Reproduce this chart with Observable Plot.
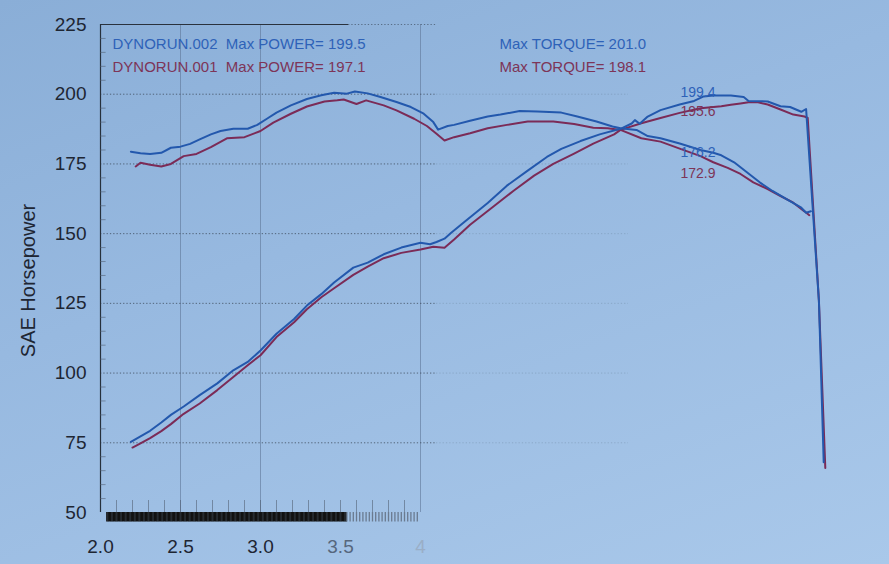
<!DOCTYPE html>
<html><head><meta charset="utf-8">
<script src="https://cdn.jsdelivr.net/npm/d3@7"></script>
<script src="https://cdn.jsdelivr.net/npm/@observablehq/plot@0.6"></script>
<style>
html,body{margin:0;padding:0;}
body{width:889px;height:564px;overflow:hidden;background:linear-gradient(160deg,#8aaed7 0%,#97b9e0 40%,#a9c8ea 100%);font-family:"Liberation Sans",Arial,sans-serif;}
#chart svg{display:block;background:transparent;}
</style></head><body><div id="chart"></div>
<script>
// ---- data ----
const runs = ["DYNORUN.002", "DYNORUN.001"];
const maxPower = [199.5, 197.1];
const maxTorque = [201.0, 198.1];
const cursorPower = [199.4, 195.6];
const cursorTorque = [176.2, 172.9];

const rpmTorque002 = [2.19,2.25,2.31,2.38,2.44,2.5,2.56,2.62,2.69,2.75,2.83,2.92,2.98,3.04,3.1,3.19,3.29,3.38,3.46,3.54,3.59,3.67,3.75,3.85,3.94,4.02,4.08,4.11,4.17,4.21,4.31,4.42,4.5,4.62,4.73,4.88,4.98,5.1,5.2,5.25,5.35,5.42,5.5,5.62,5.75,5.83,5.88,5.96,6.04,6.12,6.2,6.29,6.38,6.41,6.44];
const torque002 =    [179.4,178.8,178.6,179.0,180.8,181.2,182.2,183.8,185.6,186.8,187.6,187.6,189.0,191.2,193.4,196.0,198.3,199.6,200.5,200.2,201.0,200.3,199.0,197.2,195.4,193.0,190.0,187.3,188.6,189.0,190.5,192.0,192.7,194.0,193.8,193.4,192.0,190.2,188.4,187.8,187.2,185.0,184.2,182.3,180.0,179.0,178.1,175.6,172.0,168.4,165.3,162.3,159.3,157.5,158.0];

const rpmTorque001 = [2.22,2.25,2.31,2.38,2.44,2.52,2.6,2.69,2.79,2.9,3.0,3.08,3.19,3.29,3.4,3.48,3.52,3.6,3.66,3.77,3.85,3.96,4.04,4.1,4.15,4.21,4.31,4.42,4.54,4.67,4.83,4.96,5.08,5.17,5.25,5.38,5.5,5.62,5.75,5.83,5.92,6.0,6.08,6.17,6.25,6.33,6.4,6.43];
const torque001 =    [174.1,175.4,174.7,174.1,175.0,177.8,178.6,181.0,184.2,184.6,186.8,189.8,193.0,195.6,197.4,197.8,198.1,196.5,197.8,196.0,194.2,191.2,188.6,185.8,183.4,184.6,186.0,187.8,189.0,190.2,190.2,189.3,188.0,187.8,187.2,184.2,183.0,180.5,177.8,175.6,173.6,171.4,168.4,166.0,163.5,161.1,158.0,156.6];

const rpmPower002 = [2.19,2.25,2.31,2.38,2.44,2.52,2.62,2.73,2.83,2.92,3.0,3.1,3.21,3.29,3.38,3.46,3.58,3.67,3.77,3.88,4.0,4.06,4.1,4.15,4.19,4.27,4.42,4.54,4.67,4.79,4.88,5.0,5.12,5.25,5.32,5.34,5.37,5.42,5.5,5.62,5.71,5.77,5.83,5.94,6.02,6.05,6.17,6.25,6.31,6.38,6.41,6.49,6.52];
const power002 =    [75.3,77.3,79.3,82.3,85.0,88.0,92.1,96.3,101.0,104.0,108.1,114.1,119.4,124.2,128.3,132.5,137.8,139.6,142.6,145.0,146.7,146.2,147.0,148.2,150.2,154.0,161.0,167.2,172.6,177.5,180.4,183.2,185.6,187.6,189.5,190.7,189.4,192.0,194.3,196.3,197.6,199.2,199.5,199.5,199.0,197.6,197.4,195.7,195.4,193.7,194.7,126.0,68.0];

const rpmPower001 = [2.2,2.25,2.31,2.38,2.44,2.52,2.62,2.73,2.83,2.92,3.0,3.1,3.21,3.29,3.38,3.46,3.58,3.67,3.77,3.88,4.0,4.08,4.15,4.21,4.31,4.46,4.58,4.71,4.83,4.96,5.08,5.21,5.25,5.38,5.5,5.62,5.75,5.88,5.94,6.0,6.05,6.11,6.17,6.25,6.33,6.4,6.42,6.49,6.53];
const power001 =    [73.3,74.8,76.7,79.2,81.7,85.4,89.1,93.9,98.6,102.8,106.4,112.9,118.2,122.9,127.2,130.4,135.2,138.2,141.2,143.1,144.3,145.3,144.9,147.9,153.2,159.9,165.3,170.8,175.0,178.7,182.3,185.6,187.2,189.6,191.5,193.3,195.0,195.7,196.2,196.7,197.1,197.1,196.3,194.5,192.7,192.0,191.5,126.0,66.0];

const yTicks = [50, 75, 100, 125, 150, 175, 200, 225];
const yGrid = [75, 100, 125, 150, 175, 200];
const xTickValues = [2.0, 2.5, 3.0, 3.5, 4.0];
const xTickLabels = ["2.0", "2.5", "3.0", "3.5", "4"];
const xTickShade = ["#1e2633", "#1e2633", "#1e2633", "#56677d", "#9aaec6"];
const xGrid = [2.5, 3.0, 4.0];
const cursorRpm = 5.625;

// ---- styling ----
const blue = "#2358ad", red = "#7b2b57";
const blueText = "#2e62b8", redText = "#7d3558";

const zip = (xs, ys) => xs.map((x, i) => ({rpm: x, v: ys[i]}));
const minorY = d3.range(55, 225, 5).filter(v => v % 25 !== 0);
const minorX = d3.range(2.1, 3.95, 0.1);
const rugDark = d3.range(2.04, 3.54, 0.008);
const rugLight = d3.range(3.54, 3.99, 0.02);

const headerOpts = {frameAnchor: "top-left", textAnchor: "start", lineAnchor: "middle", fontSize: 15};
const cursorOpts = {x: cursorRpm, textAnchor: "start", lineAnchor: "middle", fontSize: 14, text: d => d.toFixed(1)};

const chart = Plot.plot({
  width: 889,
  height: 564,
  marginLeft: 100,
  marginRight: 29,
  marginTop: 24,
  marginBottom: 52,
  x: {domain: [2, 6.75], axis: null},
  y: {domain: [50, 225], axis: null},
  style: {background: "transparent", fontFamily: "'Liberation Sans', Arial, sans-serif"},
  marks: [
    Plot.ruleX(xGrid, {y1: 50, y2: 225, stroke: "#62799a", strokeWidth: 0.9, strokeOpacity: 0.7}),
    Plot.ruleY(yGrid, {x1: 2, x2: 4.1, stroke: "#34404f", strokeDasharray: "1.3,2", strokeOpacity: 0.7}),
    Plot.ruleY(yGrid, {x1: 4.1, x2: 5.3, stroke: "#34404f", strokeDasharray: "1.3,2", strokeOpacity: 0.18}),
    Plot.ruleY([225], {x1: 2, x2: 3.55, stroke: "#2a323d", strokeWidth: 1.2}),
    Plot.ruleY([225], {x1: 3.55, x2: 4.1, stroke: "#34404f", strokeDasharray: "1.3,2", strokeOpacity: 0.6}),
    Plot.ruleX([2], {y1: 50, y2: 225, stroke: "#26303c", strokeWidth: 1.2}),
    Plot.ruleY(minorY, {x1: 2, x2: 2.035, stroke: "#4c5a6c", strokeOpacity: 0.55}),
    Plot.ruleX(minorX, {y1: 50, y2: 54.3, stroke: "#4c5a6c", strokeOpacity: 0.55}),
    Plot.ruleX(rugDark, {y1: 50, y2: 46.6, stroke: "#121212", strokeWidth: 1.5}),
    Plot.ruleX(rugLight, {y1: 50, y2: 46.6, stroke: "#6a7a8f", strokeWidth: 1.3}),

    // curves
    Plot.line(zip(rpmTorque001, torque001), {x: "rpm", y: "v", stroke: red, strokeWidth: 2}),
    Plot.line(zip(rpmPower001, power001), {x: "rpm", y: "v", stroke: red, strokeWidth: 2}),
    Plot.line(zip(rpmTorque002, torque002), {x: "rpm", y: "v", stroke: blue, strokeWidth: 2}),
    Plot.line(zip(rpmPower002, power002), {x: "rpm", y: "v", stroke: blue, strokeWidth: 2}),

    // y tick labels
    Plot.text(yTicks, {x: 2, y: d => d, text: d => String(d), textAnchor: "end", dx: -14, fontSize: 19, fill: "#1e2633"}),
    // x tick labels
    Plot.text(xTickValues.map((v, i) => ({v, label: xTickLabels[i], shade: xTickShade[i]})),
      {x: "v", text: "label", frameAnchor: "bottom", lineAnchor: "middle", textAnchor: "middle", dy: 34, fontSize: 19, fill: d => d.shade}),
    // y axis title
    Plot.text(["SAE Horsepower"], {frameAnchor: "left", textAnchor: "middle", lineAnchor: "middle", rotate: -90, dx: -72, dy: 12, fontSize: 20, fill: "#1e2633"}),

    // header annotations
    Plot.text([`${runs[0]}\u00a0 Max POWER= ${maxPower[0].toFixed(1)}`], {...headerOpts, dx: 12, dy: 20, fill: blueText}),
    Plot.text([`${runs[1]}\u00a0 Max POWER= ${maxPower[1].toFixed(1)}`], {...headerOpts, dx: 12, dy: 43, fill: redText}),
    Plot.text([`Max TORQUE= ${maxTorque[0].toFixed(1)}`], {...headerOpts, dx: 399, dy: 20, fill: blueText}),
    Plot.text([`Max TORQUE= ${maxTorque[1].toFixed(1)}`], {...headerOpts, dx: 399, dy: 43, fill: redText}),

    // cursor readouts
    Plot.text([cursorPower[0]], {...cursorOpts, y: 200.6, fill: blueText}),
    Plot.text([cursorPower[1]], {...cursorOpts, y: 193.8, fill: redText}),
    Plot.text([cursorTorque[0]], {...cursorOpts, y: 179.1, fill: blueText}),
    Plot.text([cursorTorque[1]], {...cursorOpts, y: 171.6, fill: redText})
  ]
});
document.getElementById("chart").appendChild(chart);
</script>
</body></html>
